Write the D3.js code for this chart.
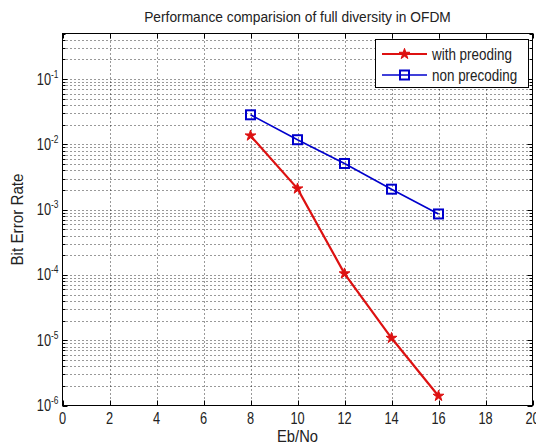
<!DOCTYPE html>
<html lang="en">
<head>
<meta charset="UTF-8">
<title>Performance comparision</title>
<script src="https://d3js.org/d3.v7.min.js"></script>
<style>
  body { margin: 0; padding: 0; background: #fff; }
  svg { display: block; font-family: 'Liberation Sans', Arial, sans-serif; }
  .grid line { stroke: #000; stroke-width: 1; stroke-dasharray: 1 3; opacity: 0.8; }
  text { fill: #222; }
</style>
</head>
<body>
<svg width="536" height="445"></svg>
<script>
// data
var ebno = [8, 10, 12, 14, 16];
var berPrecoding = [0.0136, 0.0021, 1.05e-4, 1.08e-5, 1.4e-6];
var berNonPrecoding = [0.0284, 0.0118, 0.0051, 0.00206, 0.00086];
var xTicks = [0, 2, 4, 6, 8, 10, 12, 14, 16, 18, 20];
var yExponents = [-6, -5, -4, -3, -2, -1];
var seriesNames = ["with preoding", "non precoding"];

var svg = d3.select("svg");
// plot box (note: "top" is reserved on window, so use pTop etc.)
var pLeft = 62.5, pTop = 33.5, pRight = 532.5, pBottom = 405.5;

var x = d3.scaleLinear().domain([0, 20]).range([pLeft, pRight]);
var y = d3.scaleLog().domain([1e-6, 0.5]).range([pBottom, pTop]);

// the original font is a tall narrow helvetica, so squeeze the text sideways
function label(px, py, str, size, anchor, sx, rot) {
    var g = svg.append("g")
        .attr("transform", "translate(" + px + "," + py + ")" + (rot ? " rotate(" + rot + ")" : "") + " scale(" + sx + ",1)");
    return g.append("text").attr("text-anchor", anchor).style("font-size", size + "px").text(str);
}

// minor + major y values
var yMinor = [];
yExponents.forEach(function(e) {
    for (var m = 1; m <= 9; m++) {
        var v = m * Math.pow(10, e);
        if (v <= 0.5 + 1e-12) yMinor.push(v);
    }
});

// grid
var grid = svg.append("g").attr("class", "grid");
grid.selectAll(".gy").data(yMinor.filter(function(v) { return v > 1e-6 && v < 0.5; }))
    .enter().append("line")
    .attr("x1", pLeft).attr("x2", pRight)
    .attr("y1", function(d) { return Math.round(y(d)) + 0.5; })
    .attr("y2", function(d) { return Math.round(y(d)) + 0.5; });
grid.selectAll(".gx").data(xTicks.slice(1, -1))
    .enter().append("line")
    .attr("y1", pTop).attr("y2", pBottom)
    .attr("x1", function(d) { return Math.round(x(d)) + 0.5; })
    .attr("x2", function(d) { return Math.round(x(d)) + 0.5; });

// ticks (inside, all four sides)
var ticks = svg.append("g").attr("stroke", "#000").attr("stroke-width", 1);
xTicks.forEach(function(d) {
    var px = Math.round(x(d)) + 0.5;
    ticks.append("line").attr("x1", px).attr("x2", px).attr("y1", pBottom).attr("y2", pBottom - 5);
    ticks.append("line").attr("x1", px).attr("x2", px).attr("y1", pTop).attr("y2", pTop + 5);
});
yMinor.forEach(function(d) {
    var py = Math.round(y(d)) + 0.5;
    var major = Math.abs(Math.log10(d) - Math.round(Math.log10(d))) < 1e-9;
    var len = major ? 5 : 3;
    ticks.append("line").attr("x1", pLeft).attr("x2", pLeft + len).attr("y1", py).attr("y2", py);
    ticks.append("line").attr("x1", pRight).attr("x2", pRight - len).attr("y1", py).attr("y2", py);
});

// frame
svg.append("rect")
    .attr("x", pLeft).attr("y", pTop)
    .attr("width", pRight - pLeft).attr("height", pBottom - pTop)
    .attr("fill", "none").attr("stroke", "#000").attr("stroke-width", 1);

// x tick labels
xTicks.forEach(function(d) {
    label(x(d), pBottom + 18.5, d, 16, "middle", 0.8);
});

// y tick labels: 10^e
yExponents.forEach(function(e) {
    var t = label(pLeft - 4, y(Math.pow(10, e)) + 5.5, "", 16, "end", 0.8);
    t.append("tspan").text("10");
    t.append("tspan").attr("dy", -7).style("font-size", "10.5px").text(String(e));
});

// titles
label((pLeft + pRight) / 2, 22, "Performance comparision of full diversity in OFDM", 14.5, "middle", 0.95);
label((pLeft + pRight) / 2, 442, "Eb/No", 16, "middle", 0.92);
label(23, (pTop + pBottom) / 2, "Bit Error Rate", 16, "middle", 0.95, -90);

// series
var red = "#dd1111", blue = "#0000cc";
var line = d3.line()
    .x(function(d) { return x(d[0]); })
    .y(function(d) { return y(d[1]); });

var redPts = d3.zip(ebno, berPrecoding);
var bluePts = d3.zip(ebno, berNonPrecoding);

svg.append("path").datum(bluePts).attr("d", line)
    .attr("fill", "none").attr("stroke", blue).attr("stroke-width", 1.6);
svg.selectAll(".sq").data(bluePts).enter().append("rect")
    .attr("x", function(d) { return x(d[0]) - 4.5; })
    .attr("y", function(d) { return y(d[1]) - 4.5; })
    .attr("width", 9).attr("height", 9)
    .attr("fill", "none").attr("stroke", blue).attr("stroke-width", 2);

svg.append("path").datum(redPts).attr("d", line)
    .attr("fill", "none").attr("stroke", red).attr("stroke-width", 2.2);
var star = d3.symbol().type(d3.symbolStar).size(36);
svg.selectAll(".st").data(redPts).enter().append("path")
    .attr("d", star)
    .attr("transform", function(d) { return "translate(" + x(d[0]) + "," + y(d[1]) + ")"; })
    .attr("fill", red).attr("stroke", red).attr("stroke-width", 1);

// legend
var lg = svg.append("g");
lg.append("rect").attr("x", 375.5).attr("y", 39.5).attr("width", 153).attr("height", 48)
    .attr("fill", "#fff").attr("stroke", "#000").attr("stroke-width", 1);
var rows = [
    { name: seriesNames[0], color: red, w: 2.2, mark: "star", yy: 54 },
    { name: seriesNames[1], color: blue, w: 1.6, mark: "square", yy: 75 }
];
rows.forEach(function(r) {
    lg.append("line").attr("x1", 382).attr("x2", 427).attr("y1", r.yy).attr("y2", r.yy)
        .attr("stroke", r.color).attr("stroke-width", r.w);
    if (r.mark === "star") {
        lg.append("path").attr("d", star).attr("transform", "translate(404.5," + r.yy + ")")
            .attr("fill", red).attr("stroke", red);
    } else {
        lg.append("rect").attr("x", 400).attr("y", r.yy - 4.5).attr("width", 9).attr("height", 9)
            .attr("fill", "none").attr("stroke", blue).attr("stroke-width", 2);
    }
    label(432, r.yy + 5.5, r.name, 16, "start", 0.84);
});
</script>
</body>
</html>
